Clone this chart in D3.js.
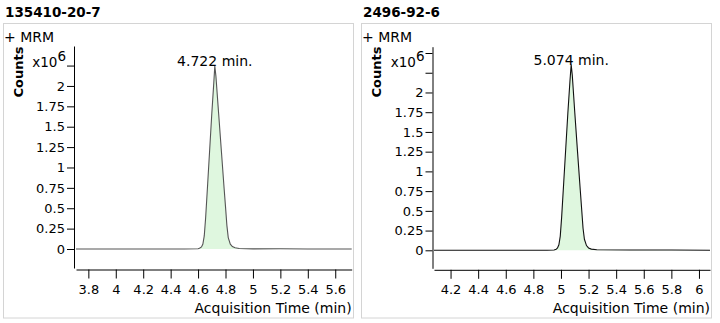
<!DOCTYPE html>
<html><head><meta charset="utf-8">
<script src="https://cdn.jsdelivr.net/npm/d3@7"></script>
<style>
html,body{margin:0;padding:0;background:#fff;}
svg{display:block;}
text{font-family:"DejaVu Sans",Verdana,sans-serif;fill:#000;}
</style></head>
<body>
<svg id="chart" width="720" height="323"></svg>
<script>
// ---- Data (counts in units of 10^6) ----
const titles = ["135410-20-7", "2496-92-6"];
const peakLabels = ["4.722 min.", "5.074 min."];
const peakTimes = [4.722, 5.074];

const timeA = [3.71, 4.50, 4.60, 4.61, 4.625, 4.635, 4.645, 4.655, 4.67, 4.685, 4.70, 4.715, 4.722, 4.73, 4.75, 4.77, 4.79, 4.80, 4.81, 4.82, 4.835, 4.85, 4.87, 4.90, 5.00, 5.20, 5.40, 5.72];
const countA = [0.0, 0.0, 0.004, 0.01, 0.025, 0.06, 0.16, 0.38, 0.80, 1.23, 1.66, 2.05, 2.245, 2.12, 1.66, 1.20, 0.74, 0.52, 0.29, 0.14, 0.06, 0.03, 0.015, 0.006, 0.002, 0.003, 0.0, 0.0];

const timeB = [4.08, 4.90, 4.95, 4.965, 4.975, 4.985, 4.995, 5.005, 5.02, 5.035, 5.05, 5.065, 5.074, 5.082, 5.10, 5.12, 5.14, 5.15, 5.16, 5.17, 5.185, 5.20, 5.22, 5.26, 5.50, 5.80, 6.08];
const countB = [0.0, 0.0, 0.004, 0.012, 0.03, 0.07, 0.18, 0.42, 0.86, 1.30, 1.74, 2.14, 2.353, 2.22, 1.75, 1.25, 0.76, 0.52, 0.28, 0.14, 0.06, 0.03, 0.015, 0.008, 0.004, 0.003, 0.0];

const xTicksA = [3.8, 4.0, 4.2, 4.4, 4.6, 4.8, 5.0, 5.2, 5.4, 5.6];
const xTicksB = [4.2, 4.4, 4.6, 4.8, 5.0, 5.2, 5.4, 5.6, 5.8, 6.0];
const yTicksA = [0, 0.25, 0.5, 0.75, 1, 1.25, 1.5, 1.75, 2, 2.25];
const yTicksB = [0, 0.25, 0.5, 0.75, 1, 1.25, 1.5, 1.75, 2, 2.25, 2.5];
const yLabelMax = 2;

const panels = [
  {ox: 0, title: titles[0], label: peakLabels[0], pt: peakTimes[0], t: timeA, c: countA,
   xd: [3.71, 5.72], xr: [76, 351.7], yd: [-0.233, 2.49], yr: [268, 46], yAxisX: 74, xTicks: xTicksA, yTicks: yTicksA},
  {ox: 358, title: titles[1], label: peakLabels[1], pt: peakTimes[1], t: timeB, c: countB,
   xd: [4.08, 6.08], xr: [434, 710], yd: [-0.228, 2.58], yr: [268.3, 46.7], yAxisX: 432.5, xTicks: xTicksB, yTicks: yTicksB}
];

const svg = d3.select("#chart");
const fmt = d3.format("~g");

panels.forEach((p, i) => {
  const g = svg.append("g");
  const bx = i === 0 ? 3.5 : 361.5;
  // title
  g.append("text").attr("x", bx + 1.5).attr("y", 16.5)
    .style("font-weight", "bold").style("font-size", "13.5px").text(p.title);
  // frame
  g.append("rect").attr("x", bx).attr("y", 23.5).attr("width", 350).attr("height", 294.5)
    .attr("fill", "none").attr("stroke", "#d4d4d4").attr("stroke-width", 1);
  g.append("text").attr("x", bx + 0.5).attr("y", 41.5).style("font-size", "14px").text("+ MRM");

  const x = d3.scaleLinear().domain(p.xd).range(p.xr);
  const y = d3.scaleLinear().domain(p.yd).range(p.yr);
  const y0 = y(0);

  const data = p.t.map((t, k) => [t, p.c[k]]);
  g.append("path").datum(data)
    .attr("d", d3.area().x(d => x(d[0])).y0(y0).y1(d => y(d[1])))
    .attr("fill", "#dff7df");
  g.append("path").datum(data)
    .attr("d", d3.line().x(d => x(d[0])).y(d => y(d[1])))
    .attr("fill", "none").attr("stroke", i === 0 ? "#555" : "#111").attr("stroke-width", 1.1);

  // y axis
  const ya = g.append("g").attr("transform", `translate(${p.yAxisX},0)`)
    .call(d3.axisLeft(y).tickValues(p.yTicks).tickSize(7).tickSizeOuter(0).tickPadding(2)
      .tickFormat(d => d <= yLabelMax ? fmt(d) : ""));
  ya.selectAll("text").style("font-size", "13px").style("font-family", '"DejaVu Sans",sans-serif').attr("fill", "#000");
  ya.selectAll("line,path").attr("stroke", "#000");

  // x axis
  const xa = g.append("g").attr("transform", `translate(0,${p.yr[0] + 1.5})`)
    .call(d3.axisBottom(x).tickValues(p.xTicks).tickSize(9).tickSizeOuter(0).tickPadding(6).tickFormat(fmt));
  xa.selectAll("text").style("font-size", "13px").style("font-family", '"DejaVu Sans",sans-serif').attr("fill", "#000");
  xa.selectAll("line,path").attr("stroke", "#000");

  g.append("text").attr("x", p.xr[1]).attr("y", 313).attr("text-anchor", "end")
    .style("font-size", "14px").text("Acquisition Time (min)");

  // y-axis title
  g.append("text").attr("transform", `translate(${bx + 19},${72}) rotate(-90)`)
    .attr("text-anchor", "middle").style("font-size", "13px").style("font-weight", "bold").text("Counts");

  // multiplier
  const m = g.append("text").attr("x", p.yAxisX - 8).attr("y", 67).attr("text-anchor", "end").style("font-size", "13.5px");
  m.append("tspan").text("x10");
  m.append("tspan").attr("dy", -6).text("6");

  // peak label
  const peakVal = d3.max(p.c);
  g.append("text").attr("x", x(p.pt)).attr("y", y(peakVal) + 0.5).attr("text-anchor", "middle")
    .style("font-size", "14px").text(p.label);
});
</script>
</body></html>
